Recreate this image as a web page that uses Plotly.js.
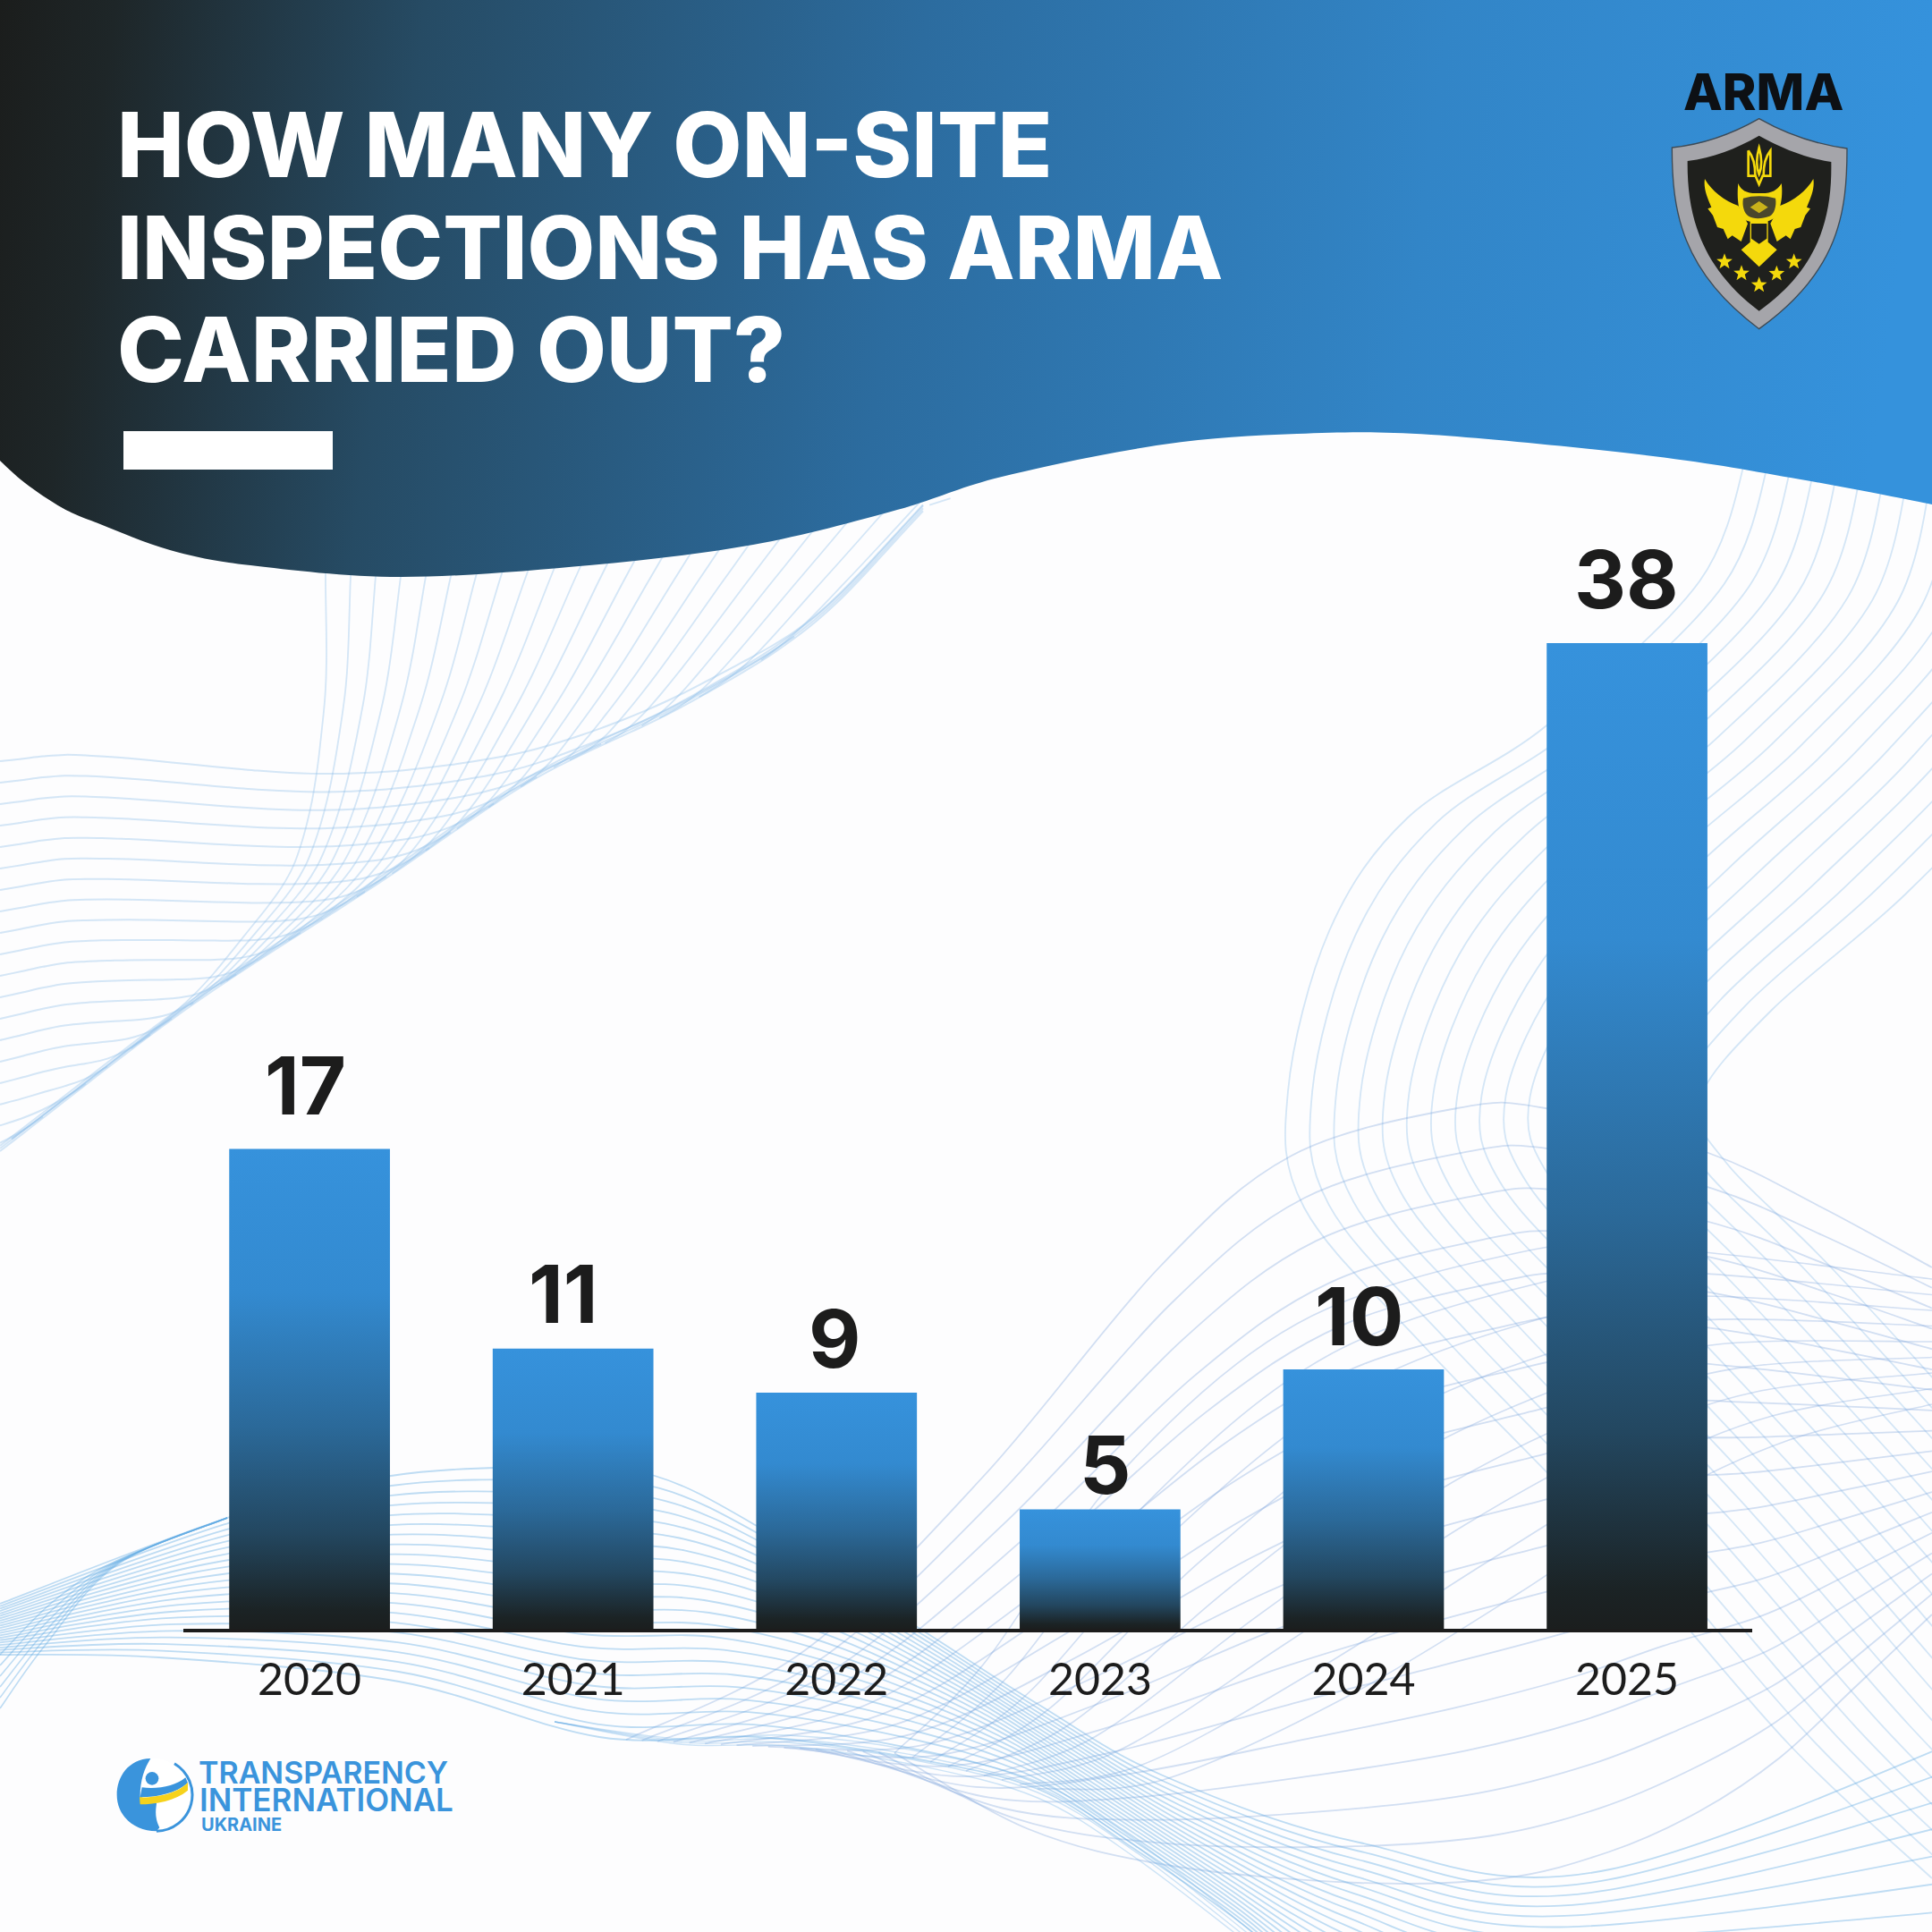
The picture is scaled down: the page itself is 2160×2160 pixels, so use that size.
<!DOCTYPE html>
<html>
<head>
<meta charset="utf-8">
<script src="https://cdn.plot.ly/plotly-3.0.1.min.js"></script>
<style>html,body{margin:0;padding:0;background:#fff}#chart{width:2160px;height:2160px}</style>
</head>
<body>
<div id="chart"></div>
<script>
// ---------- chart data ----------
const years = ["2020", "2021", "2022", "2023", "2024", "2025"];
// The numbers printed above the bars.
const printedValues = [17, 11, 9, 5, 10, 38];
// The bar heights as the reference draws them, on the scale set by the 38 bar.
// The reference's bars are not strictly proportional to their printed numbers.
const drawnHeights = [18.5, 10.8, 9.1, 4.6, 10, 38];
const titleLines = ["HOW MANY ON-SITE", "INSPECTIONS HAS ARMA", "CARRIED OUT?"];

const W = 2160;
const px = v => v / W;
const py = v => 1 - v / W;

// ---------- decorative background (not data) ----------
function smooth(p) {
  let d = "M" + p[0][0] + " " + p[0][1];
  for (let i = 0; i < p.length - 1; i++) {
    const a = p[Math.max(i - 1, 0)], b = p[i], c = p[i + 1], e = p[Math.min(i + 2, p.length - 1)];
    d += " C" + (b[0] + (c[0] - a[0]) / 6).toFixed(1) + " " + (b[1] + (c[1] - a[1]) / 6).toFixed(1) + " " +
      (c[0] - (e[0] - b[0]) / 6).toFixed(1) + " " + (c[1] - (e[1] - b[1]) / 6).toFixed(1) + " " + c[0] + " " + c[1];
  }
  return d;
}
const strokePath = (pts, stroke, width) => '<path d="' + smooth(pts) + '" fill="none" stroke="' + stroke + '" stroke-width="' + width + '"/>';
function family(A, B, n, stroke, width) {
  let s = "";
  for (let k = 0; k < n; k++) {
    const t = k / (n - 1);
    const pts = A.map((a, i) => [+(a[0] + (B[i][0] - a[0]) * t).toFixed(1), +(a[1] + (B[i][1] - a[1]) * t).toFixed(1)]);
    s += strokePath(pts, stroke, width);
  }
  return s;
}
// smooth value through a table of [u, v] guide points, u increasing
function curveAt(tbl, u) {
  const n = tbl.length;
  if (u <= tbl[0][0]) return tbl[0][1];
  if (u >= tbl[n - 1][0]) return tbl[n - 1][1];
  let i = 0;
  while (u > tbl[i + 1][0]) i++;
  const slope = j => {
    const a = tbl[Math.max(j - 1, 0)], b = tbl[Math.min(j + 1, n - 1)];
    return (b[1] - a[1]) / (b[0] - a[0]);
  };
  const h = tbl[i + 1][0] - tbl[i][0], f = (u - tbl[i][0]) / h;
  const f2 = f * f, f3 = f2 * f;
  return (2*f3 - 3*f2 + 1) * tbl[i][1] + (f3 - 2*f2 + f) * h * slope(i) + (-2*f3 + 3*f2) * tbl[i + 1][1] + (f3 - f2) * h * slope(i + 1);
}
const softMin = (a, b, k) => b - k * Math.log1p(Math.exp(Math.min((b - a) / k, 600)));
const ridge = [[0,1287],[210,1127],[421,989],[596,872],[772,785],[912,695],[1038,565]];
const pale = "rgba(150,195,235,0.40)";
const mesh = "rgba(125,165,220,0.34)";
const strong = "rgba(95,170,228,0.40)";
let waves = "";
// upper-left: nearly level lines that end on the rising ridge
const levelTop = [[0,851],[84,844],[365,865],[561,846],[701,805],[828,745],[912,695],[1038,565]];
for (let i = 0; i < 19; i++) {
  const pts = [];
  for (let x = 0; x <= 1038; x += 24) {
    const r = curveAt(ridge, x), flat = curveAt(levelTop, x) + i * 24 * (1 - x / 2400);
    pts.push([x, +softMin(flat, r, 10).toFixed(1)]);
    if (flat > r + 14 && pts.length > 1) break;
  }
  waves += strokePath(pts, pale, 2);
}
// upper-left: lines falling from the header that end on the same ridge
const fallLine = [[560,363],[640,364],[795,362],[963,330],[1060,262],[1135,196],[1215,100],[1290,0]];
for (let i = 0; i < 23; i++) {
  const pts = [];
  for (let y = 560; y <= 1290; y += 24) {
    const x = curveAt(fallLine, y) + 30 * i - i * (y - 600) * 0.045;
    if (x < 0) break;
    const r = curveAt(ridge, x);
    pts.push([+x.toFixed(1), +softMin(y, r, 7).toFixed(1)]);
    if (y > r + 10) break;
  }
  if (pts.length > 1) waves += strokePath(pts, pale, 1.8);
}
// the ridge edge itself
[0, 3, 6].forEach(o => {
  const pts = [];
  for (let x = 0; x <= 1038; x += 24) pts.push([x, +(curveAt(ridge, x) - o).toFixed(1)]);
  waves += strokePath(pts, pale, 2);
});
// right: nested arcs from the top-right corner, sweeping behind the tall bar
waves += family([[1955,500],[1900,650],[1728,812],[1574,914],[1486,1041],[1440,1220],[1458,1350],[1592,1505],[1800,1720],[2000,1950],[2160,2100]],
                [[2400,500],[2370,700],[2270,850],[2130,1000],[1980,1130],[1900,1230],[1930,1300],[2050,1420],[2250,1640],[2450,1870],[2600,2050]], 18, pale, 1.8);
// lower right: mesh hill
waves += family([[700,1945],[900,1845],[1100,1650],[1296,1417],[1444,1292],[1629,1239],[1728,1239],[1910,1289],[2035,1349],[2160,1417]],
                [[1000,1960],[1150,2045],[1310,2086],[1518,2105],[1680,2100],[1800,2070],[1900,2025],[1990,1965],[2070,1890],[2160,1805]], 18, mesh, 1.8);
waves += family([[1000,1960],[1100,1860],[1250,1650],[1450,1480],[1700,1400],[1850,1395],[2160,1430]],
                [[1160,2000],[1300,1990],[1500,1900],[1700,1780],[1850,1680],[2000,1610],[2160,1570]], 9, mesh, 1.6);
// bottom: bundle from the left edge
waves += family([[0,1793],[254,1697],[437,1650],[620,1640],[732,1650],[848,1707],[1027,1820],[1160,1905],[1300,1985],[1520,2060],[1800,2090],[2300,1900]],
                [[0,1850],[178,1853],[446,1880],[670,1942],[848,1942],[1027,1967],[1160,2000],[1268,2067],[1400,2160],[1500,2260],[1600,2360],[2200,2700]], 22, strong, 1.8);
waves += family([[0,1850],[60,1790],[130,1745],[254,1697]],[[0,1910],[50,1840],[130,1750],[254,1697]], 6, strong, 1.6);
waves += family([[620,1925],[760,1944],[880,1940],[1027,1958],[1160,1992],[1268,2056],[1400,2160]],
                [[620,1925],[760,1950],[880,1952],[1027,1974],[1160,2010],[1268,2076],[1392,2170]], 4, "rgba(95,170,228,0.30)", 1.4);

const header = [[0,515],[28,540],[70,568],[112,586],[190,615],[280,632],[449,645],[659,632],[842,609],[1003,570],[1120,533],[1300,497],[1450,485],[1600,486],[1848,510],[2013,536],[2160,564]];
const headerPath = smooth(header) + " L2160 0 L0 0 Z";

function star(cx, cy, r) {
  let p = [];
  for (let i = 0; i < 10; i++) {
    const a = -Math.PI / 2 + i * Math.PI / 5, q = i % 2 ? r * 0.42 : r;
    p.push((cx + q * Math.cos(a)).toFixed(1) + "," + (cy + q * Math.sin(a)).toFixed(1));
  }
  return '<polygon points="' + p.join(" ") + '" fill="#f4d90c"/>';
}
const wing = '<path d="M318 450 C340 490 385 525 430 540 L462 600 L440 660 L410 640 L395 652 L380 618 L360 612 L345 572 L328 550 L340 545 C325 510 313 480 318 450Z" fill="#f4d90c"/>';
const shield =
  '<g transform="translate(1800,50) scale(0.33333)">' +
  '<path d="M500 248 C600 305 700 335 795 348 C795 560 770 760 500 953 C240 760 208 560 208 345 C310 335 400 305 500 248Z" fill="#a5a5aa" stroke="#3d4a55" stroke-width="4"/>' +
  '<path d="M500 305 C580 350 660 380 742 393 C745 580 700 750 500 893 C310 750 258 580 260 390 C345 380 420 350 500 305Z" fill="#1f201d"/>' +
  '<g fill="none" stroke="#f4d90c" stroke-width="8">' +
  '<path d="M464 355 V440 H488 L500 468 L512 440 H538 V355 C522 375 515 405 515 438"/>' +
  '<path d="M464 355 C480 375 487 405 487 438"/><path d="M500 345 C490 380 490 410 500 435 C510 410 510 380 500 345Z"/></g>' +
  wing + '<g transform="translate(1000,0) scale(-1,1)">' + wing + '</g>' +
  '<path d="M470 590 L470 662 L440 688 L500 745 L560 688 L530 662 L530 590Z" fill="#f4d90c"/>' +
  '<path d="M474 600 H526 V650 L500 668 L474 650Z" fill="#1f201d"/>' +
  '<path d="M430 465 C440 490 460 500 500 498 C540 500 560 490 575 465 C582 510 570 570 545 585 C520 600 470 600 450 585 C430 565 425 510 430 465Z" fill="#f4d90c"/>' +
  '<path d="M447 515 C480 505 520 505 555 515 C560 540 550 570 535 575 C510 585 480 585 465 575 C450 565 442 540 447 515Z" fill="#4a472c"/>' +
  '<path d="M470 545 L500 525 L530 545 L500 565Z" fill="#c9b21a"/>' +
  star(384,728,28) + star(441,767,28) + star(500,806,28) + star(559,768,28) + star(617,728,28) +
  '</g>';
const tiBlue = "#3a94dc";
const tiLogo =
  '<g transform="translate(100,1930) scale(0.33333)">' +
  '<circle cx="215" cy="230" r="122" fill="#fff"/>' +
  '<path d="M205 108 C130 110 92 170 92 230 C92 300 150 352 225 352 L235 340 C215 300 225 270 225 258 L170 236 C170 180 185 140 205 108Z" fill="' + tiBlue + '"/>' +
  '<path d="M285 125 A122 122 0 0 1 225 352" fill="none" stroke="' + tiBlue + '" stroke-width="9"/>' +
  '<path d="M176 205 C230 212 290 200 322 172 L330 190 C290 225 230 238 170 238Z" fill="' + tiBlue + '"/>' +
  '<path d="M168 238 C230 240 300 222 330 188 L330 215 C290 250 220 262 170 262Z" fill="#f6d21c"/>' +
  '<circle cx="210" cy="175" r="22" fill="' + tiBlue + '"/>' +
  '</g>';
const backgroundSvg =
  '<svg xmlns="http://www.w3.org/2000/svg" width="2160" height="2160" viewBox="0 0 2160 2160">' +
  '<defs><linearGradient id="h" x1="0" y1="0" x2="1" y2="0.04">' +
  '<stop offset="0" stop-color="#1b1d1c"/><stop offset="0.06" stop-color="#1e2628"/><stop offset="0.22" stop-color="#264b64"/>' +
  '<stop offset="0.48" stop-color="#2c6c9f"/><stop offset="0.75" stop-color="#3285c7"/><stop offset="1" stop-color="#3592dc"/>' +
  '</linearGradient></defs>' +
  '<rect width="2160" height="2160" fill="#fdfdfe"/>' + waves +
  '<path d="' + headerPath + '" fill="url(#h)"/>' +
  '<rect x="138" y="482" width="234" height="43" fill="#ffffff"/>' +
  shield + tiLogo + '</svg>';

// ---------- text ----------
function label(text, x, y, size, color, weight, family, anchor) {
  return { text: text, xref: "paper", yref: "paper", x: px(x), y: py(y), xanchor: anchor || "left", yanchor: "middle",
           showarrow: false, font: { size: size, color: color, weight: weight, family: family } };
}
const titleFont = "Inter, sans-serif";
const valueFont = "Inter, sans-serif";
const titleRows = [162, 276, 390];
const titleSizes = [100, 98, 101];
const labelShiftsX = [-5, -11, -2, 6, -4, -1];
const labelShiftsY = [15, 5, 4, -6, 3, 15];
const annotations = [];
titleLines.forEach((t, i) => annotations.push(label(t, 129, titleRows[i], titleSizes[i], "#ffffff", 800, titleFont)));
printedValues.forEach((v, i) => annotations.push({
  text: String(v), x: i, y: drawnHeights[i], xref: "x", yref: "y", xanchor: "center", yanchor: "bottom",
  yshift: labelShiftsY[i], xshift: labelShiftsX[i], showarrow: false, font: { size: 90, color: "#1c1c1c", weight: 700, family: valueFont }
}));
annotations.push(label("ARMA", 1971, 103, 57, "#0d1014", 800, titleFont, "center"));
annotations.push(label("TRANSPARENCY", 220, 1981, 34, tiBlue, 600, titleFont));
annotations.push(label("INTERNATIONAL", 221, 2012, 35, tiBlue, 600, titleFont));
annotations.push(label("UKRAINE", 223, 2040, 20, tiBlue, 700, titleFont));

// ---------- chart ----------
const trace = {
  type: "bar", x: years, y: drawnHeights, width: 0.61,
  marker: { color: "#3692dc", line: { width: 0 } }, hoverinfo: "skip", cliponaxis: false
};
const layout = {
  width: W, height: W, margin: { l: 0, r: 0, t: 0, b: 0 },
  paper_bgcolor: "rgba(0,0,0,0)", plot_bgcolor: "rgba(0,0,0,0)", showlegend: false,
  xaxis: { domain: [px(205), px(1959)], type: "category", range: [-0.479, 5.475], showgrid: false, zeroline: false,
           showline: true, linecolor: "#1c1c1c", linewidth: 4, ticks: "", ticklabelstandoff: 10,
           tickfont: { family: "Lato, sans-serif", size: 50, color: "#1c1c1c" } },
  yaxis: { domain: [py(1821), py(661)], range: [0, 40], visible: false, showgrid: false, zeroline: false },
  images: [{ source: "data:image/svg+xml;charset=utf-8," + encodeURIComponent(backgroundSvg), xref: "paper", yref: "paper",
             x: 0, y: 1, sizex: 1, sizey: 1, xanchor: "left", yanchor: "top", sizing: "stretch", layer: "below" }],
  annotations: annotations
};
Plotly.newPlot("chart", [trace], layout, { staticPlot: true, displayModeBar: false }).then(gd => {
  const svg = gd.querySelector(".main-svg");
  const NS = "http://www.w3.org/2000/svg";
  const g = document.createElementNS(NS, "linearGradient");
  g.setAttribute("id", "barGrad");
  g.setAttribute("x1", "0"); g.setAttribute("y1", "0"); g.setAttribute("x2", "0"); g.setAttribute("y2", "1");
  [[0, "#3692dc"], [0.3, "#338ad0"], [0.58, "#2b6999"], [0.8, "#234760"], [0.96, "#1b2325"], [1, "#1b1e1e"]].forEach(s => {
    const st = document.createElementNS(NS, "stop");
    st.setAttribute("offset", s[0]); st.setAttribute("stop-color", s[1]); g.appendChild(st);
  });
  svg.querySelector("defs").appendChild(g);
  gd.querySelectorAll(".bars .point path").forEach(p => { p.style.fill = "url(#barGrad)"; });
});
</script>
</body>
</html>
